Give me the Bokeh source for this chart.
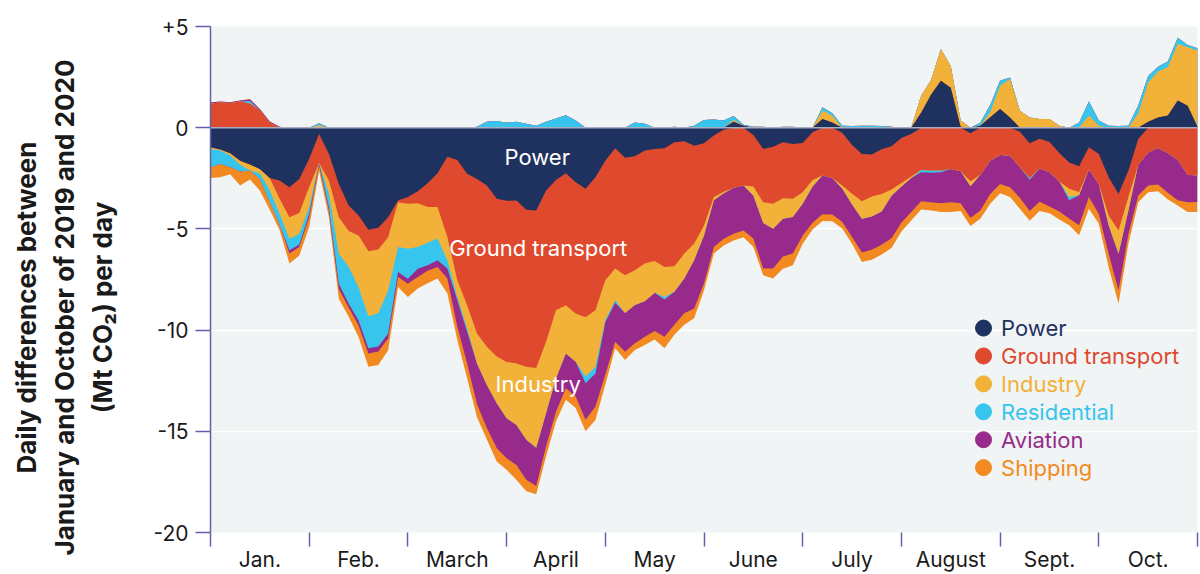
import numpy as np
from bokeh.plotting import figure
from bokeh.layouts import row
from bokeh.models import FixedTicker, Span, Range1d
from bokeh.embed import file_html
from bokeh.resources import INLINE
from bokeh.core.properties import value

# ---------------- data ----------------
months = ["Jan.", "Feb.", "March", "April", "May", "June", "July", "August", "Sept.", "Oct."]
# sample positions along the month axis (0 = 1 Jan, 10 = end of Oct), every 0.1 month
x_month = [round(i * 0.1, 1) for i in range(101)]

sectors = ["Power", "Ground transport", "Industry", "Residential", "Aviation", "Shipping"]
colors = ["#1f325f", "#df4a2f", "#f2b138", "#37c5ee", "#982a8b", "#f28a21"]

power = [-0.97, -1.08, -1.26, -1.63, -1.82, -2.04, -2.48, -2.61, -2.94, -2.53,
         -1.54, -0.31, -1.30, -2.78, -3.84, -4.34, -5.04, -4.94, -4.42, -3.60,
         -3.43, -3.14, -2.74, -2.25, -1.43, -1.59, -2.28, -2.53, -2.86, -3.51,
         -3.61, -3.60, -4.06, -4.09, -3.10, -2.58, -2.25, -2.69, -3.02, -2.45,
         -1.63, -1.02, -1.49, -1.41, -1.13, -1.05, -1.02, -0.72, -0.67, -0.89,
         -0.77, -0.39, -0.10, 0.30, 0.10, -0.36, -1.05, -0.94, -0.72, -0.80,
         -0.76, -0.23, 0.43, 0.26, -0.25, -0.85, -1.30, -1.33, -1.07, -0.92,
         -0.51, -0.31, 0.74, 1.63, 2.32, 1.97, 0.05, -0.28, 0.10, 0.52,
         0.92, 0.50, -0.20, -0.77, -0.54, -0.71, -1.25, -1.72, -1.90, -0.97,
         -1.30, -2.45, -3.27, -2.12, -0.56, 0.30, 0.50, 0.60, 1.35, 1.08,
         0.05]
ground = [1.20, 1.25, 1.22, 1.30, 1.20, 0.85, 0.25, -0.90, -1.48, -1.69,
          -1.39, -1.44, -1.31, -1.64, -1.26, -0.99, -1.07, -1.08, -0.99, -0.08,
          -0.33, -0.59, -1.18, -1.67, -3.97, -5.94, -6.49, -7.64, -7.96, -7.80,
          -7.96, -8.05, -7.75, -7.78, -7.47, -6.44, -6.52, -6.49, -6.35, -6.57,
          -5.91, -5.94, -5.80, -5.63, -5.58, -5.53, -5.86, -6.12, -5.55, -4.84,
          -4.06, -3.04, -3.07, -2.97, -2.86, -2.55, -2.63, -2.82, -2.76, -2.71,
          -2.43, -2.35, -2.36, -2.48, -2.60, -2.41, -2.33, -2.07, -2.20, -2.13,
          -2.22, -2.10, -2.09, -2.12, -2.12, -2.04, -2.15, -2.36, -2.32, -1.63,
          -1.35, -1.38, -1.75, -1.72, -1.48, -1.49, -1.41, -1.30, -1.28, -1.10,
          -1.48, -1.89, -1.81, -1.31, -1.26, -1.22, -1.00, -1.25, -1.59, -2.33,
          -2.36]
industry = [-0.08, -0.05, -0.11, -0.20, -0.30, -0.21, -0.61, -0.74, -1.07, -1.02,
            -0.99, 0.12, -0.66, -1.81, -1.77, -2.55, -3.20, -3.15, -2.63, -2.22,
            -2.22, -2.17, -1.77, -1.56, -1.15, -0.82, -1.15, -1.48, -1.89, -2.30,
            -2.79, -3.04, -3.61, -3.94, -3.53, -3.37, -2.38, -2.38, -2.92, -2.79,
            -1.97, -1.56, -1.86, -1.72, -1.86, -1.58, -1.48, -1.26, -1.23, -0.82,
            -0.49, -0.16, -0.07, 0.08, 0.00, -0.44, -1.03, -1.23, -1.02, -0.90,
            -0.57, -0.33, 0.42, 0.33, -0.16, -0.53, -0.87, -0.99, -0.87, -0.31,
            -0.18, -0.07, 0.84, 0.72, 1.56, 1.08, 0.30, -0.25, 0.00, 0.25,
            1.15, 1.90, 0.84, 0.50, 0.43, 0.43, 0.10, -0.41, -0.16, 0.60,
            0.10, -0.49, -1.15, -0.66, 0.70, 1.93, 2.28, 2.40, 2.80, 2.90,
            3.77]
residential = [-0.90, -0.66, -0.57, -0.33, 0.12, -0.28, -0.57, -0.53, -0.57, -0.53,
               -0.33, 0.10, -0.66, -1.48, -1.81, -1.64, -1.59, -1.64, -2.13, -1.23,
               -1.48, -1.07, -1.10, -1.07, -0.41, -0.16, -0.16, 0.05, 0.30, 0.33,
               0.25, 0.30, 0.20, 0.10, 0.30, 0.45, 0.62, 0.35, -0.33, -0.33,
               -0.10, -0.13, 0.00, 0.26, 0.20, 0.00, -0.13, 0.05, 0.00, 0.10,
               0.38, 0.40, 0.35, 0.20, 0.05, 0.05, 0.05, 0.00, 0.05, 0.05,
               0.00, 0.00, 0.16, 0.12, 0.10, 0.08, 0.10, 0.10, 0.08, 0.05,
               0.00, 0.00, -0.11, -0.11, -0.08, 0.00, 0.00, 0.00, 0.15, 0.35,
               0.25, 0.08, 0.00, -0.08, 0.00, 0.00, 0.00, -0.16, 0.25, 0.70,
               0.25, 0.10, 0.08, 0.10, 0.40, 0.33, 0.23, 0.27, 0.30, 0.10,
               0.10]
aviation = [0.05, 0.05, 0.04, 0.05, 0.08, 0.07, 0.06, 0.05, -0.16, -0.13,
            -0.16, -0.11, -0.16, -0.25, -0.20, -0.25, -0.25, -0.25, -0.25, -0.25,
            -0.25, -0.41, -0.28, -0.33, -0.49, -1.31, -1.56, -2.00, -2.13, -2.22,
            -1.97, -1.97, -1.97, -1.89, -1.64, -1.64, -1.72, -1.72, -1.81, -1.64,
            -2.60, -1.92, -1.92, -1.89, -1.76, -1.89, -1.84, -1.64, -1.72, -2.38,
            -2.38, -2.30, -2.25, -2.27, -2.22, -2.13, -2.25, -1.97, -1.86, -1.81,
            -1.56, -1.79, -1.92, -1.81, -1.64, -1.61, -1.67, -1.64, -1.64, -2.10,
            -1.79, -1.69, -1.43, -1.45, -1.53, -1.64, -1.58, -1.56, -1.77, -1.64,
            -1.43, -1.56, -1.51, -1.54, -1.64, -1.69, -1.48, -0.90, -1.48, -1.36,
            -1.48, -1.40, -1.81, -1.15, -1.53, -1.64, -1.81, -1.97, -2.00, -1.35,
            -1.31]
shipping = [-0.54, -0.66, -0.36, -0.70, -0.44, -0.57, -0.40, -0.28, -0.49, -0.41,
            -0.49, -0.28, -0.33, -0.49, -0.46, -0.57, -0.66, -0.66, -0.57, -0.49,
            -0.66, -0.57, -0.62, -0.57, -0.74, -0.66, -0.74, -0.66, -0.57, -0.66,
            -0.57, -0.74, -0.57, -0.41, -0.49, -0.49, -0.57, -0.57, -0.57, -0.66,
            -0.49, -0.33, -0.41, -0.33, -0.41, -0.41, -0.57, -0.49, -0.57, -0.49,
            -0.33, -0.33, -0.33, -0.33, -0.33, -0.41, -0.33, -0.49, -0.61, -0.57,
            -0.41, -0.33, -0.33, -0.33, -0.33, -0.33, -0.46, -0.49, -0.49, -0.48,
            -0.43, -0.41, -0.41, -0.41, -0.44, -0.49, -0.39, -0.41, -0.41, -0.49,
            -0.46, -0.49, -0.54, -0.49, -0.46, -0.34, -0.39, -0.33, -0.49, -0.57,
            -0.49, -0.66, -0.66, -0.49, -0.33, -0.33, -0.33, -0.33, -0.25, -0.49,
            -0.49]

y_ticks = [-20, -15, -10, -5, 0, 5]
y_tick_labels = ["-20", "-15", "-10", "-5", "0", "+5"]

title_lines = ["Daily differences between",
               "January and October of 2019 and 2020",
               "(Mt CO\u2082) per day"]

# ---------------- stacking ----------------
x = np.array(x_month)
vals = np.array([power, ground, industry, residential, aviation, shipping])
cpos = np.cumsum(np.clip(vals, 0, None), axis=0)
cneg = np.cumsum(np.clip(vals, None, 0), axis=0)

FONT = "Inter"
AX = "#6262a8"
TXT = "#1a1a1a"

# ---------------- left strip with the rotated y title ----------------
LW = 150
t = figure(width=LW, height=574, output_backend="svg", toolbar_location=None,
           title=None, x_axis_type=None, y_axis_type=None,
           x_range=Range1d(0, LW), y_range=Range1d(0, 574),
           min_border=0)
t.frame_align = False
t.grid.visible = False
t.outline_line_color = None
t.background_fill_color = "white"
t.border_fill_color = "white"
t.text(x=[26, 64, 102], y=[574 - 307] * 3, text=title_lines, angle=np.pi / 2,
       text_align="center", text_baseline="middle",
       text_font=value(FONT), text_font_style="bold", text_font_size="26px",
       text_color=TXT)

# ---------------- main chart ----------------
p = figure(width=1200 - LW, height=574, output_backend="svg", toolbar_location=None,
           x_range=Range1d(0, 10), y_range=Range1d(-20, 5),
           min_border_left=210 - LW, min_border_right=3, min_border_top=26, min_border_bottom=41)
p.frame_align = False
p.background_fill_color = "#f1f4f5"
p.border_fill_color = "white"
p.outline_line_color = None

# areas: paint outermost sector first, inner ones on top
for i in reversed(range(6)):
    p.varea(x=x, y1=cneg[i], y2=cpos[i], fill_color=colors[i], fill_alpha=1.0)

p.add_layout(Span(location=0, dimension="width", line_color="#a9abbf", line_width=1.5))

# y axis
p.yaxis.ticker = FixedTicker(ticks=y_ticks)
p.yaxis.major_label_overrides = {tk: lb for tk, lb in zip(y_ticks, y_tick_labels)}
p.yaxis.axis_line_color = AX
p.yaxis.axis_line_width = 1.5
p.yaxis.major_tick_line_color = AX
p.yaxis.major_tick_line_width = 1.5
p.yaxis.major_tick_out = 15
p.yaxis.major_tick_in = 0
p.yaxis.minor_tick_line_color = None
p.yaxis.major_label_standoff = 7
p.yaxis.major_label_text_font = FONT
p.yaxis.major_label_text_font_size = "21px"
p.yaxis.major_label_text_color = TXT

# x axis: month boundaries as (minor) ticks, month names centred
p.xaxis.ticker = FixedTicker(ticks=[i + 0.5 for i in range(10)], minor_ticks=list(range(11)))
p.xaxis.major_label_overrides = {i + 0.5: m for i, m in enumerate(months)}
p.xaxis.axis_line_color = None
p.xaxis.major_tick_line_color = None
p.xaxis.major_tick_out = 0
p.xaxis.minor_tick_line_color = AX
p.xaxis.minor_tick_line_width = 1.5
p.xaxis.minor_tick_out = 14
p.xaxis.minor_tick_in = 0
p.xaxis.major_label_standoff = 0
p.xaxis.major_label_text_font = FONT
p.xaxis.major_label_text_font_size = "21px"
p.xaxis.major_label_text_color = TXT

p.xgrid.visible = False
p.ygrid.ticker = FixedTicker(ticks=y_ticks)
p.ygrid.grid_line_color = "white"
p.ygrid.grid_line_width = 1.5

# in-area labels
p.text(x=[3.31, 3.32, 3.32], y=[-1.43, -5.96, -12.66],
       text=["Power", "Ground transport", "Industry"],
       text_color="white", text_font=value(FONT), text_font_size="22px",
       text_align="center", text_baseline="middle")

# legend
leg_y = [-9.90 - 1.379 * i for i in range(6)]
p.scatter(x=[7.832] * 6, y=leg_y, size=16, color=colors)
p.text(x=[8.01] * 6, y=leg_y, text=sectors, text_color=colors,
       text_font=value(FONT), text_font_size="22px", text_baseline="middle")

layout = row(t, p, spacing=0)
open("out.html", "w").write(file_html(layout, INLINE))
